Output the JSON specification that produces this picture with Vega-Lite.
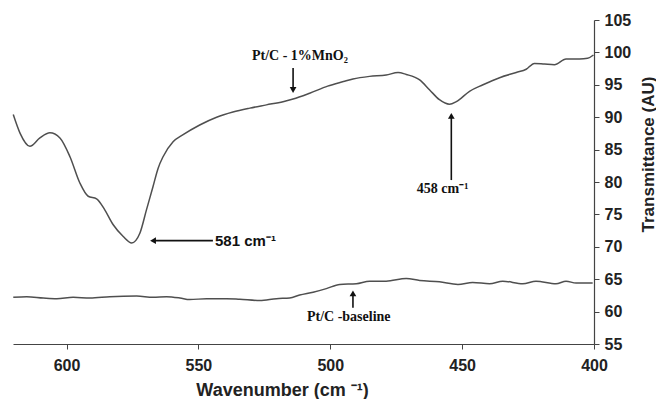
{
  "$schema": "https://vega.github.io/schema/vega-lite/v6.json",
  "width": 581,
  "height": 324,
  "autosize": {"type": "none"},
  "padding": {"left": 13, "top": 20, "right": 62, "bottom": 55},
  "background": "white",
  "config": {"view": {"stroke": null}},
  "datasets": {
    "spectra": [
      {"series": "MnO2", "wn": 620.2, "t": 90.4},
      {"series": "MnO2", "wn": 617.6, "t": 87.5},
      {"series": "MnO2", "wn": 613.9, "t": 85.5},
      {"series": "MnO2", "wn": 610.1, "t": 86.8},
      {"series": "MnO2", "wn": 606.3, "t": 87.6},
      {"series": "MnO2", "wn": 602.5, "t": 86.8},
      {"series": "MnO2", "wn": 598.7, "t": 83.9},
      {"series": "MnO2", "wn": 594.9, "t": 79.8},
      {"series": "MnO2", "wn": 591.8, "t": 77.8},
      {"series": "MnO2", "wn": 588.6, "t": 77.4},
      {"series": "MnO2", "wn": 585.5, "t": 75.7},
      {"series": "MnO2", "wn": 582.3, "t": 73.4},
      {"series": "MnO2", "wn": 578.5, "t": 71.6},
      {"series": "MnO2", "wn": 575.3, "t": 70.6},
      {"series": "MnO2", "wn": 572.2, "t": 72.1},
      {"series": "MnO2", "wn": 569.7, "t": 75.7},
      {"series": "MnO2", "wn": 567.2, "t": 79.3},
      {"series": "MnO2", "wn": 565.3, "t": 82.1},
      {"series": "MnO2", "wn": 563.4, "t": 83.9},
      {"series": "MnO2", "wn": 559.6, "t": 86.2},
      {"series": "MnO2", "wn": 555.8, "t": 87.3},
      {"series": "MnO2", "wn": 549.5, "t": 88.8},
      {"series": "MnO2", "wn": 543.1, "t": 90.0},
      {"series": "MnO2", "wn": 536.9, "t": 90.8},
      {"series": "MnO2", "wn": 530.5, "t": 91.4},
      {"series": "MnO2", "wn": 524.2, "t": 91.9},
      {"series": "MnO2", "wn": 517.9, "t": 92.4},
      {"series": "MnO2", "wn": 514.1, "t": 92.8},
      {"series": "MnO2", "wn": 507.8, "t": 93.7},
      {"series": "MnO2", "wn": 501.0, "t": 94.8},
      {"series": "MnO2", "wn": 495.0, "t": 95.5},
      {"series": "MnO2", "wn": 491.4, "t": 95.9},
      {"series": "MnO2", "wn": 485.1, "t": 96.3},
      {"series": "MnO2", "wn": 478.8, "t": 96.5},
      {"series": "MnO2", "wn": 474.3, "t": 96.9},
      {"series": "MnO2", "wn": 471.2, "t": 96.6},
      {"series": "MnO2", "wn": 466.1, "t": 95.75},
      {"series": "MnO2", "wn": 462.3, "t": 94.2},
      {"series": "MnO2", "wn": 458.6, "t": 92.7},
      {"series": "MnO2", "wn": 454.8, "t": 92.0},
      {"series": "MnO2", "wn": 452.2, "t": 92.4},
      {"series": "MnO2", "wn": 447.2, "t": 94.0},
      {"series": "MnO2", "wn": 442.1, "t": 95.0},
      {"series": "MnO2", "wn": 435.8, "t": 96.1},
      {"series": "MnO2", "wn": 429.5, "t": 96.9},
      {"series": "MnO2", "wn": 425.7, "t": 97.4},
      {"series": "MnO2", "wn": 422.6, "t": 98.3},
      {"series": "MnO2", "wn": 418.8, "t": 98.2},
      {"series": "MnO2", "wn": 415.0, "t": 98.1},
      {"series": "MnO2", "wn": 410.6, "t": 99.0},
      {"series": "MnO2", "wn": 405.5, "t": 99.0},
      {"series": "MnO2", "wn": 402.4, "t": 99.1},
      {"series": "MnO2", "wn": 400.2, "t": 99.6},
      {"series": "baseline", "wn": 620.2, "t": 62.2},
      {"series": "baseline", "wn": 615.1, "t": 62.3},
      {"series": "baseline", "wn": 608.8, "t": 62.1},
      {"series": "baseline", "wn": 603.7, "t": 62.0},
      {"series": "baseline", "wn": 597.5, "t": 62.2},
      {"series": "baseline", "wn": 591.1, "t": 62.1},
      {"series": "baseline", "wn": 583.6, "t": 62.3},
      {"series": "baseline", "wn": 573.4, "t": 62.4},
      {"series": "baseline", "wn": 567.2, "t": 62.2},
      {"series": "baseline", "wn": 562.1, "t": 62.3},
      {"series": "baseline", "wn": 557.0, "t": 62.1},
      {"series": "baseline", "wn": 553.3, "t": 61.85},
      {"series": "baseline", "wn": 546.9, "t": 62.0},
      {"series": "baseline", "wn": 539.4, "t": 62.0},
      {"series": "baseline", "wn": 534.3, "t": 61.9},
      {"series": "baseline", "wn": 526.7, "t": 61.7},
      {"series": "baseline", "wn": 520.4, "t": 62.0},
      {"series": "baseline", "wn": 515.4, "t": 62.1},
      {"series": "baseline", "wn": 511.6, "t": 62.55},
      {"series": "baseline", "wn": 506.5, "t": 63.0},
      {"series": "baseline", "wn": 501.5, "t": 63.55},
      {"series": "baseline", "wn": 496.4, "t": 64.2},
      {"series": "baseline", "wn": 490.1, "t": 64.3},
      {"series": "baseline", "wn": 485.1, "t": 64.7},
      {"series": "baseline", "wn": 478.8, "t": 64.7},
      {"series": "baseline", "wn": 471.2, "t": 65.1},
      {"series": "baseline", "wn": 466.1, "t": 64.8},
      {"series": "baseline", "wn": 458.6, "t": 64.6},
      {"series": "baseline", "wn": 451.6, "t": 64.2},
      {"series": "baseline", "wn": 446.0, "t": 64.5},
      {"series": "baseline", "wn": 439.6, "t": 64.3},
      {"series": "baseline", "wn": 434.6, "t": 64.7},
      {"series": "baseline", "wn": 427.0, "t": 64.3},
      {"series": "baseline", "wn": 422.0, "t": 64.7},
      {"series": "baseline", "wn": 414.4, "t": 64.3},
      {"series": "baseline", "wn": 410.6, "t": 64.7},
      {"series": "baseline", "wn": 406.8, "t": 64.4},
      {"series": "baseline", "wn": 400.5, "t": 64.4}
    ],
    "shafts": [
      {"x1": 514.1, "x2": 514.1, "y1": 97.6, "y2": 94.4},
      {"x1": 454.1, "x2": 454.1, "y1": 80.3, "y2": 89.9},
      {"x1": 566.5, "x2": 544.5, "y1": 70.95, "y2": 70.95},
      {"x1": 491.4, "x2": 491.4, "y1": 60.6, "y2": 62.5}
    ],
    "heads": [
      {"wn": 514.1, "t": 94.2, "shape": "triangle-down"},
      {"wn": 454.1, "t": 90.2, "shape": "triangle-up"},
      {"wn": 567.2, "t": 70.95, "shape": "triangle-left"},
      {"wn": 491.4, "t": 62.8, "shape": "triangle-up"}
    ],
    "serifLabels": [
      {"wn": 511.5, "t": 99.4, "label": "Pt/C - 1%MnO₂"},
      {"wn": 457.4, "t": 78.9, "label": "458 cm⁻¹"},
      {"wn": 493.0, "t": 59.1, "label": "Pt/C -baseline"}
    ],
    "sansLabels": [
      {"wn": 543.7, "t": 70.95, "label": "581 cm⁻¹"}
    ]
  },
  "layer": [
    {
      "data": {"name": "spectra"},
      "mark": {"type": "line", "color": "#4f4f4f", "strokeWidth": 1.5, "interpolate": "monotone"},
      "encoding": {
        "x": {
          "field": "wn", "type": "quantitative",
          "scale": {"domain": [400, 620.3], "reverse": true, "nice": false, "zero": false},
          "axis": {
            "values": [400, 450, 500, 550, 600], "tickCount": 30,
            "title": "Wavenumber (cm ⁻¹)",
            "grid": false, "labelOverlap": false, "labelFlush": false,
            "domainColor": "#444", "tickColor": "#444", "tickSize": 5, "domainWidth": 1.2,
            "labelFont": "Liberation Sans", "labelFontWeight": "bold", "labelFontSize": 16, "labelColor": "#222",
            "labelPadding": 8,
            "titleFont": "Liberation Sans", "titleFontWeight": "bold", "titleFontSize": 18, "titleColor": "#222",
            "titleX": 269, "titleY": 51, "titleBaseline": "alphabetic", "titleAlign": "center"
          }
        },
        "y": {
          "field": "t", "type": "quantitative",
          "scale": {"domain": [55, 105], "nice": false, "zero": false},
          "axis": {
            "orient": "right",
            "values": [55, 60, 65, 70, 75, 80, 85, 90, 95, 100, 105], "tickCount": 30,
            "title": "Transmittance (AU)",
            "grid": false, "labelOverlap": false, "labelFlush": false,
            "domainColor": "#444", "tickColor": "#444", "tickSize": 5, "domainWidth": 1.2,
            "labelFont": "Liberation Sans", "labelFontWeight": "bold", "labelFontSize": 16, "labelColor": "#222",
            "labelPadding": 5,
            "titleFont": "Liberation Sans", "titleFontWeight": "bold", "titleFontSize": 17, "titleColor": "#222",
            "titleAngle": 270, "titleX": 59, "titleY": 134, "titleBaseline": "alphabetic", "titleAlign": "center"
          }
        },
        "detail": {"field": "series"}
      }
    },
    {
      "data": {"name": "shafts"},
      "mark": {"type": "rule", "color": "#111", "strokeWidth": 1.6},
      "encoding": {
        "x": {"field": "x1", "type": "quantitative"},
        "x2": {"field": "x2"},
        "y": {"field": "y1", "type": "quantitative"},
        "y2": {"field": "y2"}
      }
    },
    {
      "data": {"name": "heads"},
      "mark": {"type": "point", "filled": true, "color": "#111", "size": 45, "opacity": 1},
      "encoding": {
        "x": {"field": "wn", "type": "quantitative"},
        "y": {"field": "t", "type": "quantitative"},
        "shape": {"field": "shape", "type": "nominal", "scale": null, "legend": null}
      }
    },
    {
      "data": {"name": "serifLabels"},
      "mark": {"type": "text", "font": "Liberation Serif", "fontWeight": "bold", "fontSize": 14, "color": "#111", "align": "center", "baseline": "middle"},
      "encoding": {
        "x": {"field": "wn", "type": "quantitative"},
        "y": {"field": "t", "type": "quantitative"},
        "text": {"field": "label"}
      }
    },
    {
      "data": {"name": "sansLabels"},
      "mark": {"type": "text", "font": "Liberation Sans", "fontWeight": "bold", "fontSize": 15, "color": "#111", "align": "left", "baseline": "middle"},
      "encoding": {
        "x": {"field": "wn", "type": "quantitative"},
        "y": {"field": "t", "type": "quantitative"},
        "text": {"field": "label"}
      }
    }
  ]
}
